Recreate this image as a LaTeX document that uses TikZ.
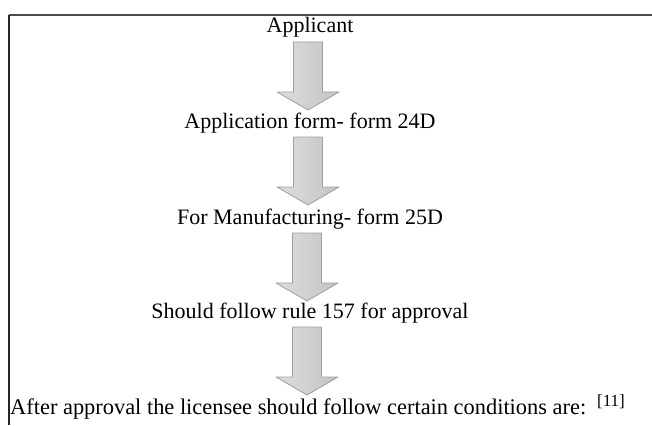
\documentclass[tikz,border=0pt]{standalone}
\usepackage{fontspec}
\setmainfont{Liberation Serif}
\pgfdeclarehorizontalshading{arrowshade}{100bp}{color(0bp)=(gray!55); color(30bp)=(gray!28); color(70bp)=(gray!45); color(100bp)=(gray!85)}
\tikzset{
  lbl/.style={anchor=base, inner sep=0pt, font=\fontsize{22}{26}\selectfont},
  blockarr/.style={shading=arrowshade, draw=gray!75, line width=0.8pt, line join=round},
  frameline/.style={line width=2pt, draw=black!70}
}
\newcommand{\blockarrow}[1]{%
  \begin{scope}[shift={(#1)}]
    \path[blockarr] (-14.5,0) -- (14.5,0) -- (14.5,50) -- (31,50) -- (0,68) -- (-31,50) -- (-14.5,50) -- cycle;
  \end{scope}}
\begin{document}
\begin{tikzpicture}[x=1pt,y=-1pt]
\useasboundingbox (0,0) rectangle (652,425);
\fill[white] (0,0) rectangle (652,425);
% frame
\coordinate (fl) at (9,15);
\coordinate (fr) at (652,15);
\coordinate (fb) at (9,425);
\draw[frameline] (fl) -- (fr);
\draw[line width=1.5pt, black!85] (fl) -- (fb);
% texts
\node[lbl] (a1) at (310,33) {Applicant};
\node[lbl] (a2) at (310,128) {Application form- form 24D};
\node[lbl] (a3) at (310,224) {For Manufacturing- form 25D};
\node[lbl] (a4) at (310,318) {Should follow rule 157 for approval};
\node[lbl, anchor=base west, font=\fontsize{22.4}{26}\selectfont] (a5) at (10,414) {After approval the licensee should follow certain conditions are:\hspace{11pt}\raisebox{8pt}{\fontsize{17}{17}\selectfont[11]}};
% arrows
\coordinate (t1) at (308,42);
\coordinate (t2) at (308,137);
\coordinate (t3) at (307,233);
\coordinate (t4) at (307,327);
\blockarrow{t1}
\blockarrow{t2}
\blockarrow{t3}
\blockarrow{t4}
\end{tikzpicture}
\end{document}
